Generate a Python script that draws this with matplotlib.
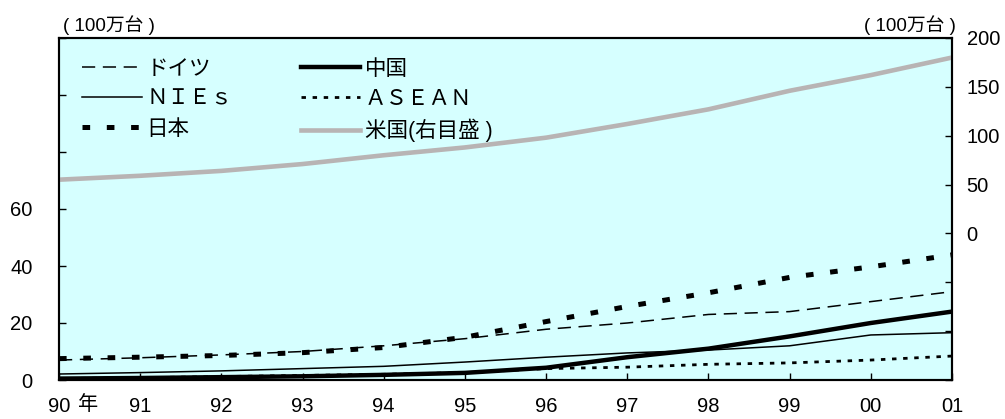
import matplotlib
matplotlib.use("Agg")
import matplotlib.pyplot as plt
from matplotlib.ticker import FixedLocator, FixedFormatter

plt.rcParams["font.family"] = ["Liberation Sans", "Noto Sans CJK JP"]
plt.rcParams["lines.scale_dashes"] = False

# Years 1990-2001, labelled by two digits
years = [1990, 1991, 1992, 1993, 1994, 1995, 1996, 1997, 1998, 1999, 2000, 2001]
year_labels = ["90", "91", "92", "93", "94", "95", "96", "97", "98", "99", "00", "01"]

# Vehicle counts, million units (left scale)
germany = [7.0, 7.8, 8.8, 10.0, 12.0, 14.5, 17.8, 20.0, 23.0, 24.0, 27.5, 31.0]
nies = [2.1, 2.6, 3.2, 4.0, 4.8, 6.3, 8.0, 9.5, 10.5, 12.0, 15.8, 16.6]
japan = [7.5, 8.0, 8.6, 9.6, 11.4, 15.0, 20.5, 25.8, 30.6, 36.0, 39.7, 43.9]
china = [0.5, 0.7, 1.0, 1.3, 1.8, 2.5, 4.3, 8.0, 11.0, 15.3, 20.0, 24.0]
asean = [0.5, 0.8, 1.2, 1.6, 2.0, 2.6, 4.0, 4.5, 5.5, 6.0, 7.0, 8.4]

# United States, million units (right scale)
usa = [55, 59, 64, 71, 80, 88, 98, 112, 127, 146, 162, 180]

left_ticks = [0, 20, 40, 60, 80, 100, 120]
left_tick_labels = ["0", "20", "40", "60", "", "", ""]
right_ticks = [-150, -100, -50, 0, 50, 100, 150, 200]
right_tick_labels = ["", "", "", "0", "50", "100", "150", "200"]

fig = plt.figure(figsize=(10.05, 4.19), dpi=100)
ax = fig.add_axes([59 / 1005, 1 - 380 / 419, (952 - 59) / 1005, (380 - 38) / 419])
ax.set_facecolor("#d6ffff")
ax2 = ax.twinx()

ln_de, = ax.plot(years, germany, color="black", lw=1.1, dashes=(9.5, 5.5),
                 label="ドイツ")
ln_ni, = ax.plot(years, nies, color="black", lw=1.1, label="ＮＩＥｓ")
ln_jp, = ax.plot(years, japan, color="black", lw=3.6, dashes=(5.5, 12),
                 dash_capstyle="butt", label="日本")
ln_cn, = ax.plot(years, china, color="black", lw=3.2, label="中国")
ln_as, = ax.plot(years, asean, color="black", lw=2.0, dashes=(3.2, 4.8),
                 dash_capstyle="butt", label="ＡＳＥＡＮ")
ln_us, = ax2.plot(years, usa, color="#b8b4b4", lw=3.3, label="米国(右目盛 )")

ax.set_xlim(1990, 2001)
ax.set_ylim(0, 120)
ax2.set_ylim(-150, 200)

ax.xaxis.set_major_locator(FixedLocator(years))
ax.xaxis.set_major_formatter(FixedFormatter(year_labels))
ax.yaxis.set_major_locator(FixedLocator(left_ticks))
ax.yaxis.set_major_formatter(FixedFormatter(left_tick_labels))
ax2.yaxis.set_major_locator(FixedLocator(right_ticks))
ax2.yaxis.set_major_formatter(FixedFormatter(right_tick_labels))

for a in (ax, ax2):
    for s in a.spines.values():
        s.set_linewidth(1.5)
        s.set_color("black")
ax.tick_params(axis="both", direction="in", length=5, width=1.0,
               labelsize=14.5, colors="black")
ax.tick_params(axis="x", pad=12)
ax.tick_params(axis="y", pad=19)
ax2.tick_params(axis="y", direction="in", length=5, width=1.0,
                labelsize=14.5, pad=10.5)

# Units above each scale and the year marker
fig.text(63 / 1005, 1 - 25 / 419, "( 100万台 )", fontsize=13.5,
         ha="left", va="center")
fig.text(956 / 1005, 1 - 25 / 419, "( 100万台 )", fontsize=13.5,
         ha="right", va="center")
fig.text(88.5 / 1005, 1 - 404 / 419, "年", fontsize=14.5,
         ha="center", va="center")

handles = [ln_de, ln_ni, ln_jp, ln_cn, ln_as, ln_us]
leg = ax2.legend(handles=handles, labels=[h.get_label() for h in handles],
                 ncol=2, loc="upper left", bbox_to_anchor=(0.0165, 0.964),
                 frameon=False, fontsize=15.5, handlelength=2.75,
                 handletextpad=0.22, columnspacing=3.2, labelspacing=0.42,
                 borderaxespad=0.0)

fig.savefig("out.png", dpi=100)
